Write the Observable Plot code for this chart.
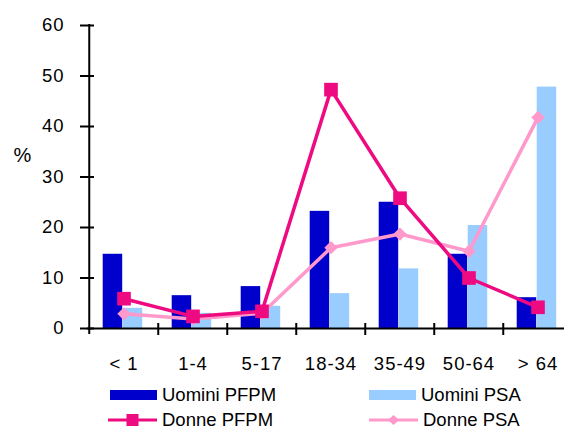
<!DOCTYPE html>
<html><head><meta charset="utf-8">
<script src="https://cdn.jsdelivr.net/npm/d3@7"></script>
<script src="https://cdn.jsdelivr.net/npm/@observablehq/plot@0.6"></script>
<style>
html,body{margin:0;padding:0;background:#fff;overflow:hidden;}
#wrap{position:relative;width:564px;height:428px;font-family:"Liberation Sans",Arial,sans-serif;}
#legend{position:absolute;left:0;top:376px;width:564px;height:52px;}
.leg{position:absolute;display:flex;align-items:center;font-size:18.5px;line-height:18px;color:#000;white-space:nowrap;height:18px;}
.leg svg{margin-right:5px;}
#chart g[aria-label="x-axis tick label"] text, #chart g[aria-label="y-axis tick label"] text{letter-spacing:1px;}
</style></head><body><div id="wrap"><div id="chart"></div><div id="legend"></div></div>
<script>
const categories = ["< 1", "1-4", "5-17", "18-34", "35-49", "50-64", "> 64"];
const uominiPFPM = [14.7, 6.5, 8.3, 23.2, 25.0, 14.7, 6.1];
const uominiPSA = [4.0, 3.0, 4.4, 6.9, 11.8, 20.4, 47.8];
const donnePFPM = [5.9, 2.4, 3.4, 47.3, 25.8, 10.0, 4.2];
const donnePSA = [2.9, 1.9, 3.0, 16.0, 18.7, 15.3, 41.8];
const yTicks = [0, 10, 20, 30, 40, 50, 60];
const seriesNames = ["Uomini PFPM", "Uomini PSA", "Donne PFPM", "Donne PSA"];
const seriesColors = ["#0000cc", "#99ccff", "#ee0a80", "#ff99cc"];

const rows = (vals) => categories.map((c, i) => ({cat: c, v: vals[i]}));

const x0 = 87, x1 = 573.5;
const bw = (x1 - x0) / categories.length;
const font = "Liberation Sans, Arial, sans-serif";

const chart = Plot.plot({
  width: 564,
  height: 376,
  marginLeft: 87,
  marginRight: 0,
  marginTop: 25,
  marginBottom: 48,
  style: {fontFamily: font, fontSize: "18.5px", color: "#000", background: "#fff", overflow: "visible"},
  x: {domain: categories, range: [x0, x1], padding: 0, label: null},
  y: {domain: [0, 60], range: [328, 25], label: null},
  marks: [
    Plot.barY(rows(uominiPFPM), {x: "cat", y: "v", fill: seriesColors[0], insetLeft: 13.7, insetRight: bw - 33.7}),
    Plot.barY(rows(uominiPSA), {x: "cat", y: "v", fill: seriesColors[1], insetLeft: 33.7, insetRight: bw - 53.7}),
    Plot.ruleY([0], {stroke: "#000", strokeWidth: 2}),
    Plot.tickX([categories[0]], {x: d => d, dx: -bw / 2, stroke: "#000", strokeWidth: 2, insetTop: -1, insetBottom: -6}),
    Plot.tickX(categories.slice(1), {x: d => d, dx: -bw / 2, stroke: "#000", strokeWidth: 2, insetTop: 298, insetBottom: -7}),
    Plot.tickY(yTicks, {y: d => d, stroke: "#000", strokeWidth: 2, insetLeft: -7, insetRight: (564 - x0) - 7}),
    Plot.axisY({ticks: yTicks, tickSize: 0, tickPadding: 23, fontSize: 18.5, label: null}),
    Plot.axisX({tickSize: 0, tickPadding: 28, fontSize: 18.5, label: null}),
    Plot.text(["%"], {frameAnchor: "left", textAnchor: "start", dx: -74, dy: -21, fontSize: 20, text: d => d}),
    Plot.line(rows(donnePSA), {x: "cat", y: "v", stroke: seriesColors[3], strokeWidth: 3.5}),
    Plot.dot(rows(donnePSA), {x: "cat", y: "v", symbol: "diamond2", r: 6, fill: seriesColors[3]}),
    Plot.line(rows(donnePFPM), {x: "cat", y: "v", stroke: seriesColors[2], strokeWidth: 3.5}),
    Plot.dot(rows(donnePFPM), {x: "cat", y: "v", symbol: "square", r: 7.7, fill: seriesColors[2]})
  ]
});
document.getElementById("chart").appendChild(chart);

// Legend
const legend = document.getElementById("legend");
const legendPos = [[110, 10], [369, 10], [108, 34.5], [369, 34.5]];
const swatch = (i) => {
  const c = seriesColors[i];
  if (i < 2) return `<svg width="47" height="12"><rect x="0" y="1" width="47" height="10" fill="${c}"/></svg>`;
  const marker = i === 2
    ? `<rect x="18.5" y="0" width="12" height="12" fill="${c}"/>`
    : `<path d="M24.5,1 L30,6 L24.5,11 L19,6 Z" fill="${c}"/>`;
  return `<svg width="49" height="12"><line x1="0" x2="49" y1="6" y2="6" stroke="${c}" stroke-width="3"/>${marker}</svg>`;
};
seriesNames.forEach((name, i) => {
  const d = document.createElement("div");
  d.className = "leg";
  d.style.left = legendPos[i][0] + "px";
  d.style.top = legendPos[i][1] + "px";
  d.innerHTML = swatch(i) + `<span>${name}</span>`;
  legend.appendChild(d);
});
</script>
</body></html>
